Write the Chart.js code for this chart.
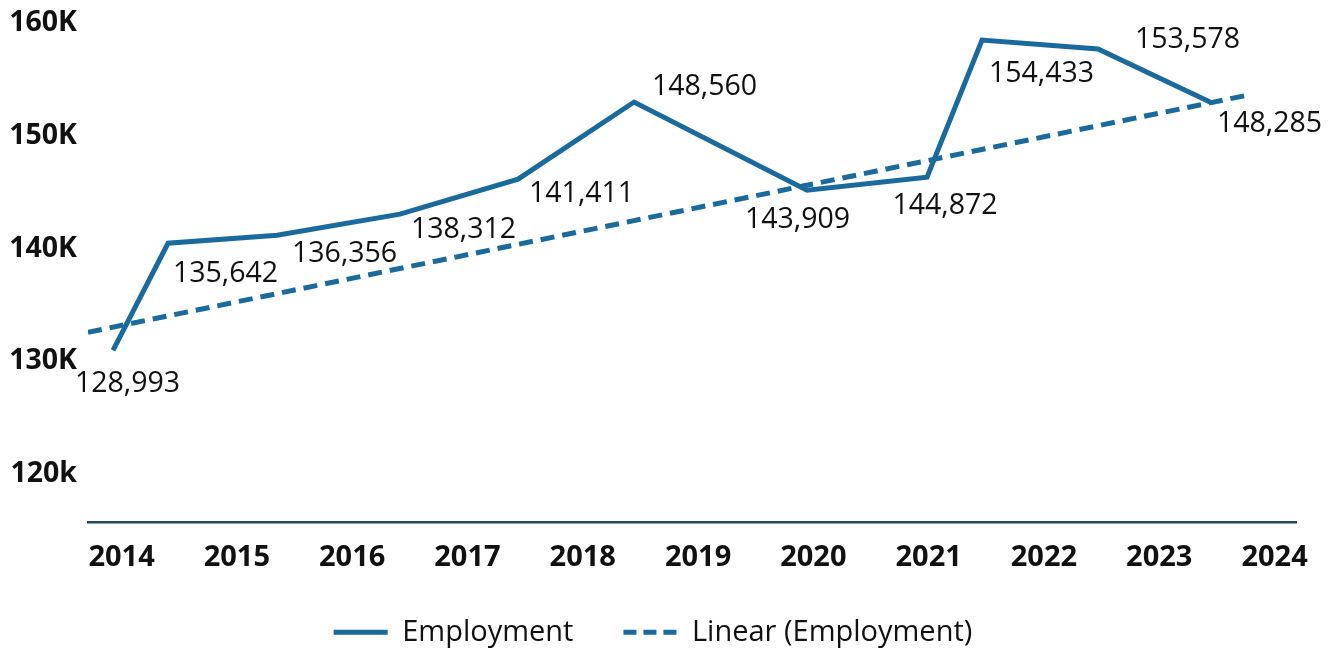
<!DOCTYPE html>
<html>
<head>
<meta charset="utf-8">
<script src="https://cdn.jsdelivr.net/npm/chart.js@4.4.1/dist/chart.umd.min.js"></script>
<style>
  html, body { margin: 0; padding: 0; background: #ffffff; }
  canvas { display: block; }
</style>
</head>
<body>
<canvas id="chart" width="1338" height="649"></canvas>
<script>
// ---- data ----
const seriesNames = ['Employment', 'Linear (Employment)'];
const pointYears = [2013.926, 2014.403, 2015.349, 2016.415, 2017.439, 2018.445, 2019.945, 2020.986, 2021.463, 2022.469, 2023.440];
const employmentValues = [130980, 140480, 141190, 143060, 146170, 153010, 145190, 146340, 158510, 157710, 153010];
const employmentLabels = [128993, 135642, 136356, 138312, 141411, 148560, 143909, 144872, 154433, 153578, 148285];
const trendYears = [2013.709, 2023.77];
const trendValues = [132580, 153630];
const yearTicks = [2014, 2015, 2016, 2017, 2018, 2019, 2020, 2021, 2022, 2023, 2024];
const valueTicks = [120000, 130000, 140000, 150000, 160000];
const valueTickLabels = ['120k', '130K', '140K', '150K', '160K'];

// ---- label placement (offsets from each point, px) ----
const labelOffsets = [[14.5, 34], [57.5, 31], [67.5, 19], [63.5, 16], [63.5, 15], [70.5, -15], [-9.5, 30], [18, 29], [59.5, 34], [89.5, -9], [59.5, 22]];

const BLUE = '#1b6a9e';
const FONT = '"Open Sans", "Noto Sans", sans-serif';

const labelPlugin = {
  id: 'pointValueLabels',
  afterDatasetsDraw(chart) {
    const meta = chart.getDatasetMeta(0);
    const c = chart.ctx;
    c.save();
    c.font = '28.5px ' + FONT;
    c.fillStyle = '#111111';
    c.textAlign = 'center';
    c.textBaseline = 'middle';
    meta.data.forEach((pt, i) => {
      const off = labelOffsets[i];
      c.fillText(employmentLabels[i].toLocaleString('en-US'), pt.x + off[0], pt.y + off[1]);
    });
    c.restore();
  }
};

function build() {
  new Chart(document.getElementById('chart'), {
    type: 'line',
    data: {
      datasets: [
        {
          label: seriesNames[0],
          data: pointYears.map((x, i) => ({ x: x, y: employmentValues[i] })),
          borderColor: BLUE,
          backgroundColor: BLUE,
          borderWidth: 5,
          pointRadius: 0,
          pointHoverRadius: 0,
          tension: 0,
          borderJoinStyle: 'miter',
          borderCapStyle: 'butt',
          fill: false
        },
        {
          label: seriesNames[1],
          data: trendYears.map((x, i) => ({ x: x, y: trendValues[i] })),
          borderColor: BLUE,
          backgroundColor: BLUE,
          borderWidth: 5,
          borderDash: [14, 8],
          pointRadius: 0,
          pointHoverRadius: 0,
          tension: 0,
          fill: false
        }
      ]
    },
    options: {
      responsive: false,
      animation: false,
      events: [],
      layout: { padding: { left: 10, right: 42, top: 12, bottom: -7.75 } },
      scales: {
        x: {
          type: 'linear',
          min: 2013.709,
          max: 2024.186,
          grid: { display: false, drawTicks: false },
          border: { display: true, color: '#1f4b5e', width: 2.5 },
          ticks: {
            padding: 18,
            autoSkip: false,
            maxRotation: 0,
            color: '#111111',
            font: { family: FONT, size: 29, weight: 'bold' },
            callback: (v) => String(v)
          },
          afterBuildTicks: (s) => { s.ticks = yearTicks.map(v => ({ value: v })); },
          afterFit: (s) => { s.height = 45.25; s.paddingLeft = 0; s.paddingRight = 0; }
        },
        y: {
          type: 'linear',
          min: 115700,
          max: 161000,
          grid: { display: false, drawTicks: false },
          border: { display: false },
          ticks: {
            padding: 11,
            autoSkip: false,
            color: '#111111',
            font: { family: FONT, size: 28.5, weight: 'bold' },
            callback: (v) => { const k = valueTicks.indexOf(v); return k >= 0 ? valueTickLabels[k] : ''; }
          },
          afterBuildTicks: (s) => { s.ticks = valueTicks.map(v => ({ value: v })); },
          afterFit: (s) => { s.width = 78; s.paddingTop = 0; s.paddingBottom = 0; }
        }
      },
      plugins: {
        legend: {
          position: 'bottom',
          labels: {
            usePointStyle: true,
            pointStyle: 'line',
            pointStyleWidth: 54,
            padding: 50,
            color: '#111111',
            font: { family: FONT, size: 29 },
            generateLabels: (chart) => {
              const items = Chart.defaults.plugins.legend.labels.generateLabels(chart);
              return items.map(item => {
                const ds = chart.data.datasets[item.datasetIndex];
                item.lineDash = ds.borderDash ? [13, 7] : [];
                item.lineDashOffset = 0;
                item.lineWidth = ds.borderWidth;
                item.strokeStyle = ds.borderColor;
                item.fillStyle = ds.borderColor;
                return item;
              });
            }
          }
        },
        tooltip: { enabled: false }
      }
    },
    plugins: [labelPlugin]
  });
}

const fontLoads = document.fonts ? Promise.all([
  document.fonts.load('bold 29px "Open Sans"'),
  document.fonts.load('28px "Open Sans"')
]) : Promise.resolve();
Promise.race([fontLoads, new Promise(r => setTimeout(r, 800))]).then(build, build);
</script>
</body>
</html>
